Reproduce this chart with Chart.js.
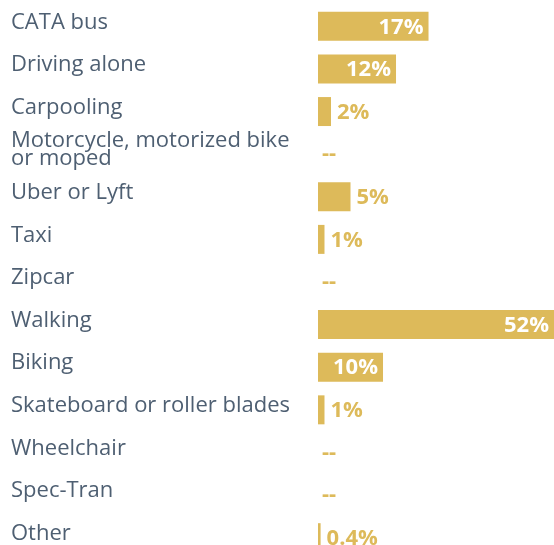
<!DOCTYPE html>
<html>
<head>
<meta charset="utf-8">
<script src="https://cdn.jsdelivr.net/npm/chart.js@4"></script>
<style>
  html, body { margin: 0; padding: 0; background: #fff; overflow: hidden; }
  #wrap { position: relative; top: -7px; width: 554px; height: 578px; }
</style>
</head>
<body>
<div id="wrap"><canvas id="chart"></canvas></div>
<script>
// modes of travel and share of respondents (%)
const modes = [
  "CATA bus",
  "Driving alone",
  "Carpooling",
  ["Motorcycle, motorized bike", "or moped"],
  "Uber or Lyft",
  "Taxi",
  "Zipcar",
  "Walking",
  "Biking",
  "Skateboard or roller blades",
  "Wheelchair",
  "Spec-Tran",
  "Other",
];
const shares = [17, 12, 2, 0, 5, 1, 0, 52, 10, 1, 0, 0, 0.4];
const shareLabels = ["17%", "12%", "2%", "--", "5%", "1%", "--", "52%", "10%", "1%", "--", "--", "0.4%"];

const GOLD = "#DDBA5A";
const SLATE = "#4E5F72";

// draws the % labels: white inside long bars, gold next to short ones
const valueLabels = {
  id: "valueLabels",
  afterDatasetsDraw(chart) {
    const { ctx, chartArea } = chart;
    const meta = chart.getDatasetMeta(0);
    ctx.save();
    ctx.font = "bold 22px 'Open Sans'";
    ctx.textBaseline = "middle";
    meta.data.forEach((bar, i) => {
      const v = shares[i];
      const txt = shareLabels[i];
      if (v >= 10) {
        ctx.fillStyle = "#fff";
        ctx.textAlign = "right";
        ctx.fillText(txt, Math.min(bar.x, chartArea.right) - 5, bar.y + 1);
      } else if (v === 0) {
        ctx.fillStyle = GOLD;
        ctx.textAlign = "left";
        ctx.fillText(txt, bar.base + 4, bar.y);
      } else {
        ctx.fillStyle = GOLD;
        ctx.textAlign = "left";
        ctx.fillText(txt, bar.x + 6, bar.y + 1);
      }
    });
    ctx.restore();
  },
};

new Chart(document.getElementById("chart"), {
  type: "bar",
  data: {
    labels: modes,
    datasets: [
      {
        data: shares,
        backgroundColor: GOLD,
        borderWidth: 0,
        barPercentage: 0.68,
        categoryPercentage: 1,
      },
    ],
  },
  options: {
    indexAxis: "y",
    responsive: true,
    maintainAspectRatio: false,
    animation: false,
    layout: { padding: { top: 5, left: 11, right: 0, bottom: 0 } },
    plugins: {
      legend: { display: false },
      tooltip: { enabled: false },
    },
    scales: {
      x: {
        display: false,
        min: 0,
        max: 36.3,
      },
      y: {
        grid: { display: false },
        border: { display: false },
        afterFit(scale) {
          scale.width = 307;
        },
        ticks: {
          autoSkip: false,
          crossAlign: "far",
          labelOffset: -4,
          color: SLATE,
          font: { family: "'Open Sans'", size: 22, lineHeight: 0.82 },
        },
      },
    },
  },
  plugins: [valueLabels],
});
</script>
</body>
</html>
